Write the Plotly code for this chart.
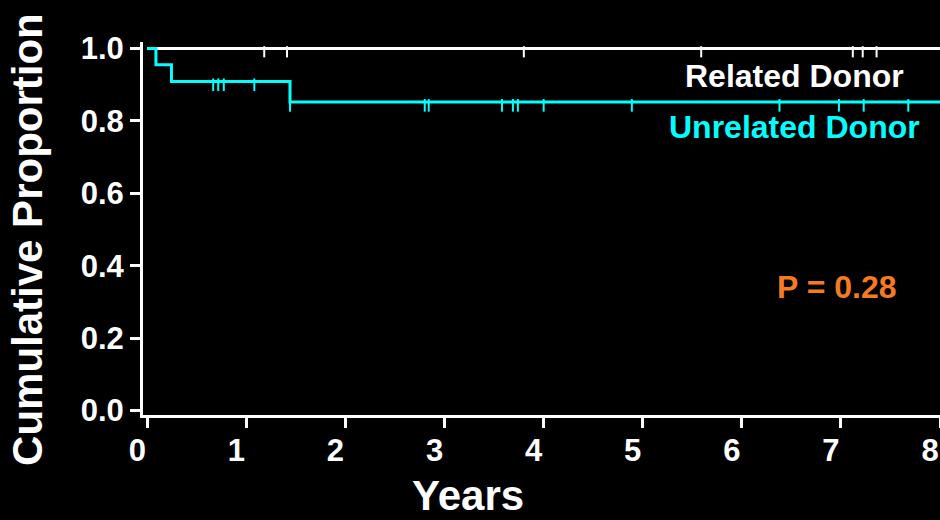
import plotly.graph_objects as go

# ---- data ----
related_event_times = []            # no events in related donors
related_surv = [1.0]
related_censor = [1.18, 1.41, 3.80, 5.59, 7.12, 7.22, 7.36]

unrelated_event_times = [0.087, 0.244, 1.44]
unrelated_surv = [1.0, 0.955, 0.909, 0.852]
unrelated_censor = [0.665, 0.716, 0.772, 1.08, 1.44, 2.80, 2.84, 3.58, 3.69,
                    3.74, 4.00, 4.89, 6.38, 6.98, 7.23, 7.68]

follow_up_end = 8.0
x_ticks = [0, 1, 2, 3, 4, 5, 6, 7, 8]
y_ticks = [0.0, 0.2, 0.4, 0.6, 0.8, 1.0]
p_text = "P = 0.28"

# ---- helpers ----
def step_xy(times, surv, end):
    xs = [0.0] + list(times) + [end]
    ys = list(surv) + [surv[-1]]
    return xs, ys

def surv_at(t, times, surv):
    s = surv[0]
    for i, et in enumerate(times):
        if t >= et:
            s = surv[i + 1]
    return s

FONT = "Liberation Sans, Arial, sans-serif"
CYAN = "#00FFFF"
WHITE = "#FFFFFF"
ORANGE = "#F47B20"
TICK_DROP = 0.009

fig = go.Figure()

rx, ry = step_xy(related_event_times, related_surv, follow_up_end)
ux, uy = step_xy(unrelated_event_times, unrelated_surv, follow_up_end)

fig.add_trace(go.Scatter(x=rx, y=ry, mode="lines", line=dict(color=WHITE, width=3, shape="hv"),
                         hoverinfo="skip", showlegend=False, cliponaxis=False))
fig.add_trace(go.Scatter(
    x=related_censor,
    y=[surv_at(t, related_event_times, related_surv) - TICK_DROP for t in related_censor],
    mode="markers",
    marker=dict(symbol="line-ns", size=8, line=dict(color=WHITE, width=2)),
    hoverinfo="skip", showlegend=False))

fig.add_trace(go.Scatter(x=ux, y=uy, mode="lines", line=dict(color=CYAN, width=3, shape="hv"),
                         hoverinfo="skip", showlegend=False, cliponaxis=False))
fig.add_trace(go.Scatter(
    x=unrelated_censor,
    y=[surv_at(t, unrelated_event_times, unrelated_surv) - TICK_DROP for t in unrelated_censor],
    mode="markers",
    marker=dict(symbol="line-ns", size=9, line=dict(color=CYAN, width=2)),
    hoverinfo="skip", showlegend=False))

fig.add_annotation(x=6.53, y=0.924, text="Related Donor", showarrow=False,
                   xanchor="center", yanchor="middle",
                   font=dict(family=FONT, size=32, color=WHITE, weight="bold"))
fig.add_annotation(x=6.53, y=0.783, text="Unrelated Donor", showarrow=False,
                   xanchor="center", yanchor="middle",
                   font=dict(family=FONT, size=32, color=CYAN, weight="bold"))
fig.add_annotation(x=6.96, y=0.341, text=p_text, showarrow=False,
                   xanchor="center", yanchor="middle",
                   font=dict(family=FONT, size=32, color=ORANGE, weight="bold"))

# axis titles
fig.add_annotation(xref="paper", yref="paper", x=-0.1443, y=0.472, text="Cumulative Proportion",
                   textangle=-90, showarrow=False, xanchor="center", yanchor="middle",
                   font=dict(family=FONT, size=42, color=WHITE, weight="bold"))
fig.add_annotation(xref="paper", yref="paper", x=0.408, y=-0.215, text="Years",
                   showarrow=False, xanchor="center", yanchor="middle",
                   font=dict(family=FONT, size=42, color=WHITE, weight="bold"))

axis_common = dict(showgrid=False, zeroline=False, showline=True, linecolor=WHITE, linewidth=3,
                   ticks="outside", tickcolor=WHITE, tickwidth=3, ticklen=10,
                   automargin=False,
                   tickfont=dict(family=FONT, size=31, color=WHITE, weight="bold"))

fig.update_xaxes(range=[-0.0434, 8.0], tickvals=x_ticks, ticktext=[str(v) for v in x_ticks],
                 ticklabelshift=-10, ticklabelstandoff=-4, **axis_common)
fig.update_yaxes(range=[-0.0124, 1.018], tickvals=y_ticks, ticktext=[f"{v:.1f}" for v in y_ticks],
                 ticklabelstandoff=0, **axis_common)

fig.update_layout(width=940, height=520, margin=dict(l=143, r=0, t=42, b=105, pad=0),
                  paper_bgcolor="black", plot_bgcolor="black",
                  font=dict(family=FONT, color=WHITE))

fig.write_html("out.html")
